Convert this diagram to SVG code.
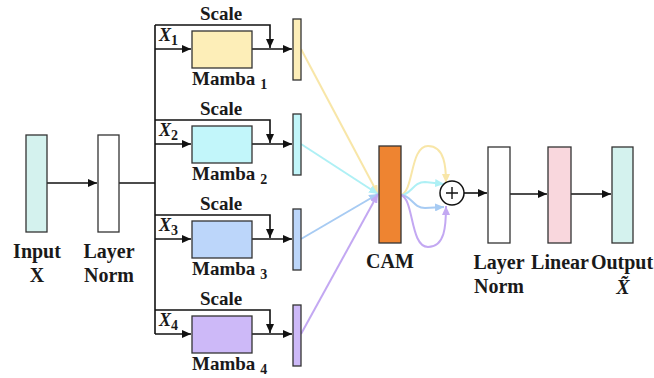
<svg xmlns="http://www.w3.org/2000/svg" width="654" height="378" viewBox="0 0 654 378">
<style>
text{font-family:"Liberation Serif","Times New Roman",serif;font-weight:bold;fill:#1a1a1a}
.lbl{font-size:20px;text-anchor:middle}
.sc{font-size:19px;text-anchor:middle}
.mb{font-size:19px}
.sub{font-size:14px}
.xl{font-size:18px;font-style:italic}
.box{stroke:#333;stroke-width:1.3}
.ln{fill:none;stroke:#111;stroke-width:1.6}
.cl{fill:none;stroke-width:2}
</style>
<defs>
<marker id="ak" markerUnits="userSpaceOnUse" markerWidth="9" markerHeight="8" refX="9" refY="4" orient="auto"><path d="M0,0 L9,4 L0,8 z" fill="#111"/></marker>
<marker id="ay" markerUnits="userSpaceOnUse" markerWidth="9" markerHeight="8" refX="9" refY="4" orient="auto"><path d="M0,0 L9,4 L0,8 z" fill="#f8e6a8"/></marker>
<marker id="ac" markerUnits="userSpaceOnUse" markerWidth="9" markerHeight="8" refX="9" refY="4" orient="auto"><path d="M0,0 L9,4 L0,8 z" fill="#aef0f5"/></marker>
<marker id="ab" markerUnits="userSpaceOnUse" markerWidth="9" markerHeight="8" refX="9" refY="4" orient="auto"><path d="M0,0 L9,4 L0,8 z" fill="#a7cbf3"/></marker>
<marker id="ap" markerUnits="userSpaceOnUse" markerWidth="9" markerHeight="8" refX="9" refY="4" orient="auto"><path d="M0,0 L9,4 L0,8 z" fill="#c3a8f2"/></marker>
</defs>

<g id="connectors">
<path class="ln" d="M47,183 H97" marker-end="url(#ak)"/>
<path class="ln" d="M119,183 H155"/>
<path class="ln" d="M155,25 V334"/>
<path class="ln" d="M155,25 H270 V48" marker-end="url(#ak)"/>
<path class="ln" d="M155,49 H191" marker-end="url(#ak)"/>
<path class="ln" d="M252,49 H292" marker-end="url(#ak)"/>
<path class="ln" d="M155,120 H270 V143" marker-end="url(#ak)"/>
<path class="ln" d="M155,144 H191" marker-end="url(#ak)"/>
<path class="ln" d="M252,144 H292" marker-end="url(#ak)"/>
<path class="ln" d="M155,215 H270 V238" marker-end="url(#ak)"/>
<path class="ln" d="M155,239 H191" marker-end="url(#ak)"/>
<path class="ln" d="M252,239 H292" marker-end="url(#ak)"/>
<path class="ln" d="M155,310 H270 V333" marker-end="url(#ak)"/>
<path class="ln" d="M155,334 H191" marker-end="url(#ak)"/>
<path class="ln" d="M252,334 H292" marker-end="url(#ak)"/>
<path class="cl" stroke="#f8e6a8" d="M301,49 L378,194" marker-end="url(#ay)"/>
<path class="cl" stroke="#aef0f5" d="M301,144 L378,194" marker-end="url(#ac)"/>
<path class="cl" stroke="#a7cbf3" d="M301,239 L378,194" marker-end="url(#ab)"/>
<path class="cl" stroke="#c3a8f2" d="M301,334 L378,194" marker-end="url(#ap)"/>
<path class="cl" stroke="#f8e6a8" d="M401,195 C414,191 410,146 428,146 C445,146 446,168 446,183" marker-end="url(#ay)"/>
<path class="cl" stroke="#aef0f5" d="M401,195 C411,195 413,182 425,182 L444,184" marker-end="url(#ac)"/>
<path class="cl" stroke="#a7cbf3" d="M401,195 C411,195 413,208 425,208 L444,207" marker-end="url(#ab)"/>
<path class="cl" stroke="#c3a8f2" d="M401,195 C414,199 410,247 428,247 C445,247 446,226 446,206" marker-end="url(#ap)"/>
<path class="ln" d="M464,193 H487" marker-end="url(#ak)"/>
<path class="ln" d="M510,194 H547" marker-end="url(#ak)"/>
<path class="ln" d="M571,194 H611" marker-end="url(#ak)"/>
</g>

<g id="input">
<rect class="box" x="26" y="135" width="21" height="97" fill="#d4f2ee"/>
<text class="lbl" x="37" y="258">Input</text>
<text class="lbl" x="37" y="282">X</text>
</g>
<g id="layernorm1">
<rect class="box" x="98" y="135" width="21" height="97" fill="#ffffff"/>
<text class="lbl" x="109" y="258">Layer</text>
<text class="lbl" x="109" y="282">Norm</text>
</g>

<g id="branch1">
<text class="sc" x="221" y="20">Scale</text>
<text class="xl" x="159" y="41">X<tspan class="sub" font-style="normal" dy="4">1</tspan></text>
<rect class="box" x="192" y="31" width="60" height="37" fill="#fdeeb8"/>
<text class="mb" x="192" y="85">Mamba<tspan class="sub" dx="5" dy="4">1</tspan></text>
<rect class="box" x="293" y="19" width="8" height="61" fill="#fdeeb8"/>
</g>
<g id="branch2">
<text class="sc" x="221" y="115">Scale</text>
<text class="xl" x="159" y="136">X<tspan class="sub" font-style="normal" dy="4">2</tspan></text>
<rect class="box" x="192" y="126" width="60" height="37" fill="#c2f6fa"/>
<text class="mb" x="192" y="180">Mamba<tspan class="sub" dx="5" dy="4">2</tspan></text>
<rect class="box" x="293" y="114" width="8" height="61" fill="#c2f6fa"/>
</g>
<g id="branch3">
<text class="sc" x="221" y="210">Scale</text>
<text class="xl" x="159" y="231">X<tspan class="sub" font-style="normal" dy="4">3</tspan></text>
<rect class="box" x="192" y="221" width="60" height="37" fill="#bcd6fa"/>
<text class="mb" x="192" y="275">Mamba<tspan class="sub" dx="5" dy="4">3</tspan></text>
<rect class="box" x="293" y="209" width="8" height="61" fill="#bcd6fa"/>
</g>
<g id="branch4">
<text class="sc" x="221" y="305">Scale</text>
<text class="xl" x="159" y="326">X<tspan class="sub" font-style="normal" dy="4">4</tspan></text>
<rect class="box" x="192" y="316" width="60" height="37" fill="#cdb9f8"/>
<text class="mb" x="192" y="370">Mamba<tspan class="sub" dx="5" dy="4">4</tspan></text>
<rect class="box" x="293" y="305" width="8" height="61" fill="#cdb9f8"/>
</g>

<g id="cam">
<rect class="box" x="379" y="146" width="22" height="97" fill="#ee8431"/>
<text class="lbl" x="390" y="268">CAM</text>
</g>
<g id="sum">
<circle cx="452" cy="193" r="12" fill="#fff" stroke="#111" stroke-width="1.5"/>
<path d="M446,193 H458 M452,187 V199" stroke="#111" stroke-width="1.4"/>
</g>
<g id="layernorm2">
<rect class="box" x="488" y="147" width="22" height="96" fill="#ffffff"/>
<text class="lbl" x="499" y="269">Layer</text>
<text class="lbl" x="499" y="293">Norm</text>
</g>
<g id="linear">
<rect class="box" x="548" y="147" width="23" height="96" fill="#f9d7dd"/>
<text class="lbl" x="560" y="269">Linear</text>
</g>
<g id="output">
<rect class="box" x="612" y="147" width="21" height="96" fill="#d4f2ee"/>
<text class="lbl" x="622" y="269">Output</text>
<text class="lbl" x="623" y="294" font-style="italic">X̃</text>
</g>
</svg>
